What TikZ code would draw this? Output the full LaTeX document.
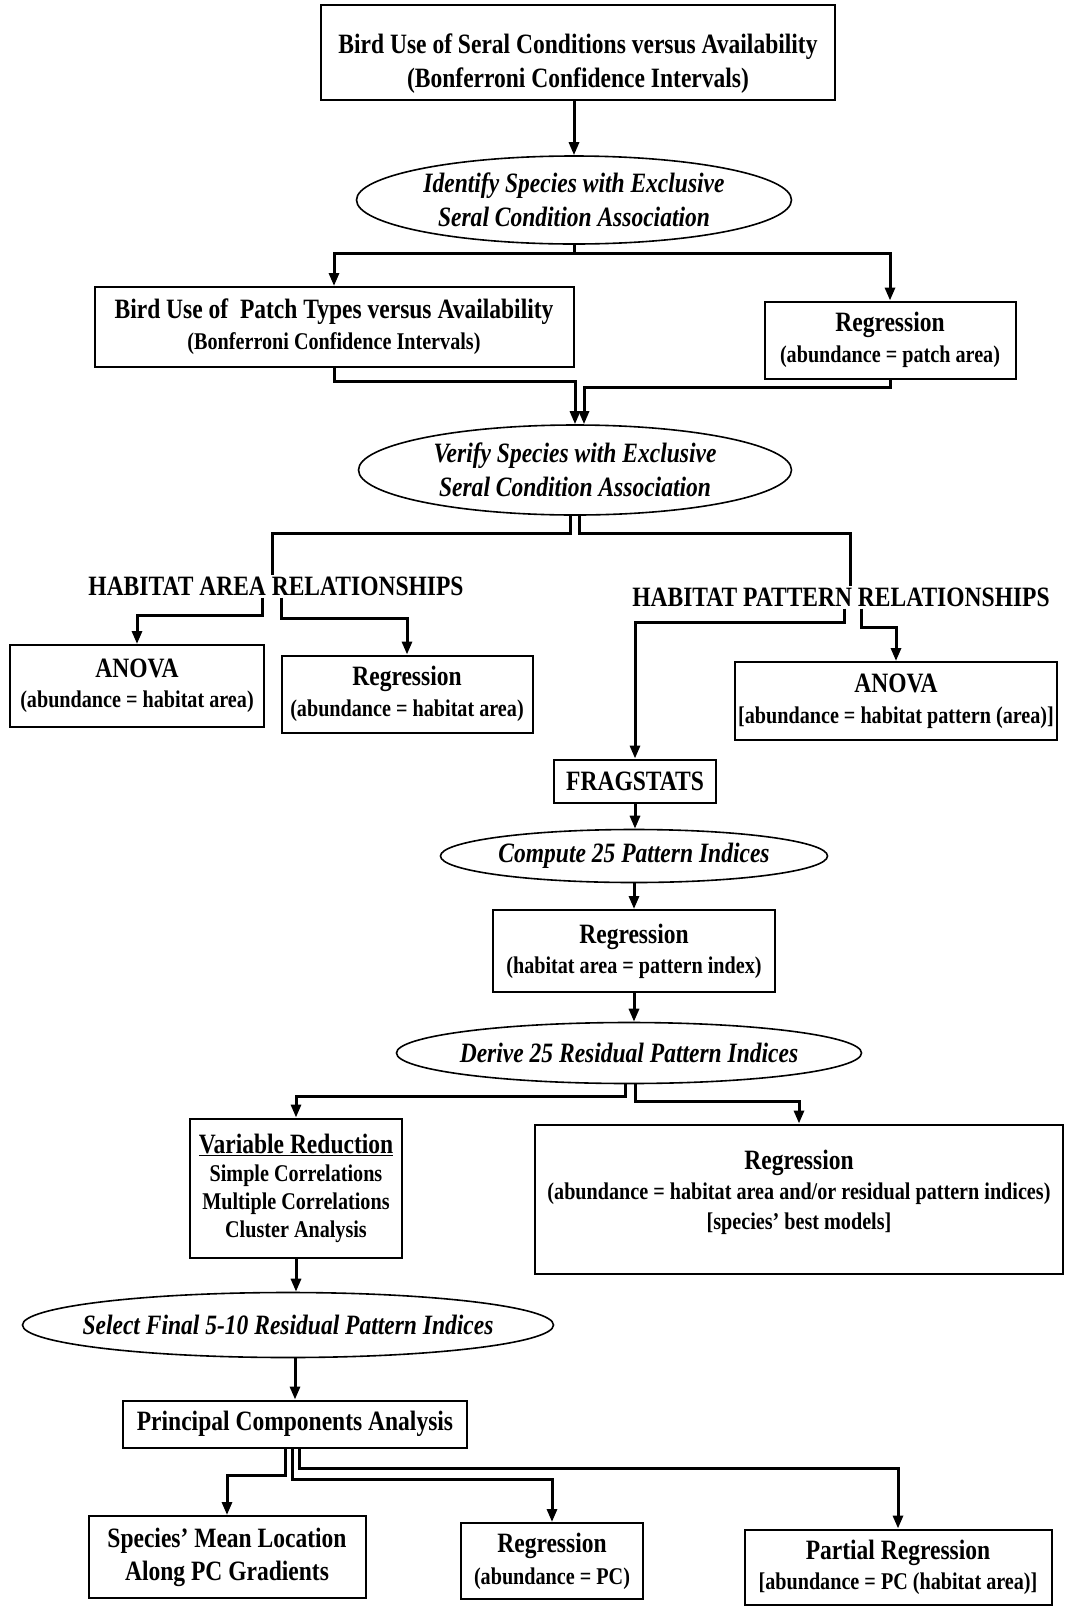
\documentclass[tikz,border=0pt]{standalone}
\usepackage{fontspec}
\setmainfont{Liberation Serif}[FakeStretch=0.84]
\usetikzlibrary{shapes.geometric,arrows.meta}

\newcommand{\bigtxt}{\fontsize{28}{34}\selectfont\bfseries}
\newcommand{\smtxt}{\fontsize{24}{30}\selectfont\bfseries}

\tikzset{
  procbox/.style 2 args={draw, line width=2pt, rectangle, inner sep=0pt, align=center,
    minimum width=#1pt, minimum height=#2pt, font=\bigtxt},
  stepell/.style 2 args={draw, line width=1.6pt, ellipse, inner xsep=-60pt, inner ysep=0pt,
    align=center, minimum width=#1pt, minimum height=#2pt, font=\bigtxt\itshape},
  grouplbl/.style={inner sep=2pt, font=\bigtxt},
  flow/.style={line width=3pt},
  arr/.style={line width=3pt, -{Triangle[length=13pt,width=10pt]}}
}

\begin{document}
\begin{tikzpicture}[x=1pt,y=-1pt]
  \fill[white] (0,0) rectangle (1082,1607);
  \useasboundingbox (0,0) rectangle (1082,1607);

  % seral conditions
  \node[procbox={514}{95}] (seral) at (578,52)
    {Bird Use of Seral Conditions versus Availability\\(Bonferroni Confidence Intervals)\\[-52pt]};
  \node[stepell={435}{88}] (identify) at (574,200)
    {Identify Species with Exclusive\\Seral Condition Association};

  % patch types
  \node[procbox={479}{80}, font=\fontsize{28}{31}\selectfont\bfseries] (patch) at (334,327)
    {Bird Use of ~Patch Types versus Availability\\{\smtxt (Bonferroni Confidence Intervals)}};
  \node[procbox={251}{77}, font=\fontsize{28}{31}\selectfont\bfseries] (regpatch) at (890,340)
    {Regression\\{\smtxt (abundance = patch area)}};
  \node[stepell={433}{90}] (verify) at (575,470)
    {Verify Species with Exclusive\\Seral Condition Association};

  % habitat area and pattern
  \node[grouplbl] (arealbl) at (276,586) {HABITAT AREA RELATIONSHIPS};
  \node[grouplbl] (patlbl) at (841,597) {HABITAT PATTERN RELATIONSHIPS};
  \node[procbox={254}{82}, font=\fontsize{28}{30}\selectfont\bfseries] (anovaarea) at (137,686)
    {ANOVA\\{\smtxt (abundance = habitat area)}};
  \node[procbox={251}{77}, font=\fontsize{28}{31}\selectfont\bfseries] (regarea) at (407,694)
    {Regression\\{\smtxt (abundance = habitat area)}};
  \node[procbox={322}{78}, font=\fontsize{28}{31}\selectfont\bfseries] (anovapat) at (896,701)
    {ANOVA\\{\smtxt [abundance = habitat pattern (area)]}};

  % fragstats chain
  \node[procbox={162}{43}] (frag) at (635,781) {FRAGSTATS};
  \node[stepell={387}{53}] (compute) at (634,856) {Compute 25 Pattern Indices};
  \node[procbox={282}{82}, font=\fontsize{28}{30}\selectfont\bfseries] (regidx) at (634,951)
    {Regression\\{\smtxt (habitat area = pattern index)}};
  \node[stepell={465}{61}] (derive) at (629,1053) {Derive 25 Residual Pattern Indices};

  \node[procbox={212}{139}, font=\fontsize{24}{28}\selectfont\bfseries] (varred) at (296,1188)
    {{\bigtxt\underline{Variable Reduction}}\\Simple Correlations\\Multiple Correlations\\Cluster Analysis};
  \node[procbox={528}{149}, font=\fontsize{24}{30}\selectfont\bfseries] (regbest) at (799,1199)
    {{\bigtxt Regression}\\(abundance = habitat area and/or residual pattern indices)\\{[species' best models]}\\[-12pt]};
  \node[stepell={531}{65}] (select) at (288,1325) {Select Final 5-10 Residual Pattern Indices};
  \node[procbox={344}{47}] (pca) at (295,1424) {Principal Components Analysis};

  % pc outputs
  \node[procbox={277}{82}, font=\fontsize{28}{33}\selectfont\bfseries] (species) at (227,1557)
    {Species' Mean Location\\Along PC Gradients};
  \node[procbox={182}{76}, font=\fontsize{28}{32}\selectfont\bfseries] (regpc) at (552,1561)
    {Regression\\{\smtxt (abundance = PC)}};
  \node[procbox={307}{75}, font=\fontsize{28}{30}\selectfont\bfseries] (partial) at (898,1567)
    {Partial Regression\\{\smtxt [abundance = PC (habitat area)]}};

  % junctions
  \coordinate (sp1) at (574,253);
  \coordinate (mg1) at (575,381);
  \coordinate (mg2) at (584,387);
  \coordinate (vs1) at (570,533);
  \coordinate (vs2) at (579,533);
  \coordinate (areatop) at (272,575);
  \coordinate (pattop) at (850,586);
  \coordinate (ab1) at (262,615);
  \coordinate (ab2) at (281,618);
  \coordinate (pb1) at (844,622);
  \coordinate (pb2) at (861,627);
  \coordinate (ds1) at (625,1096);
  \coordinate (ds2) at (635,1101);
  \coordinate (pc1) at (285,1475);
  \coordinate (pc2) at (292,1479);
  \coordinate (pc3) at (299,1468);

  \draw[arr] (seral.south -| identify.north) -- (identify.north);
  \draw[flow] (identify.south) -- (sp1);
  \draw[arr] (sp1) -| (patch.north);
  \draw[arr] (sp1) -| (regpatch.north);

  \draw[arr] (patch.south) |- (mg1) -- (mg1 |- verify.north);
  \draw[arr] (regpatch.south) |- (mg2) -- (mg2 |- verify.north);

  \draw[flow] (vs1 |- verify.south) -- (vs1) -| (areatop);
  \draw[flow] (vs2 |- verify.south) -- (vs2) -| (pattop);

  \draw[arr] (ab1 |- arealbl.south) -- (ab1) -| (anovaarea.north);
  \draw[arr] (ab2 |- arealbl.south) -- (ab2) -| (regarea.north);
  \draw[arr] (pb1 |- patlbl.south) -- (pb1) -| (frag.north);
  \draw[arr] (pb2 |- patlbl.south) -- (pb2) -| (anovapat.north);

  \draw[arr] (frag.south) -- (frag.south |- compute.north);
  \draw[arr] (compute.south) -- (compute.south |- regidx.north);
  \draw[arr] (regidx.south) -- (regidx.south |- derive.north);

  \draw[arr] (ds1 |- derive.south) -- (ds1) -| (varred.north);
  \draw[arr] (ds2 |- derive.south) -- (ds2) -| (regbest.north);

  \draw[arr] (varred.south) -- (varred.south |- select.north);
  \draw[arr] (pca.north |- select.south) -- (pca.north);

  \draw[arr] (pc1 |- pca.south) -- (pc1) -| (species.north);
  \draw[arr] (pc2 |- pca.south) -- (pc2) -| (regpc.north);
  \draw[arr] (pc3 |- pca.south) -- (pc3) -| (partial.north);
\end{tikzpicture}
\end{document}
